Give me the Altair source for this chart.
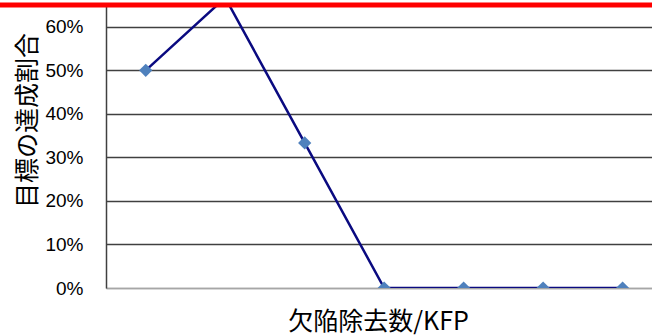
import altair as alt
import pandas as pd

# Achievement ratio per defect-removal bucket
steps = [1, 2, 3, 4, 5, 6, 7]
ratios = [0.50, 0.6667, 0.3333, 0.0, 0.0, 0.0, 0.0]
target = [0.65]

df = pd.DataFrame({"step": steps, "ratio": ratios})
target_df = pd.DataFrame({"target": target})

FONT_LATIN = "Liberation Sans"
FONT_CJK = "Noto Sans CJK JP"

x_scale = alt.Scale(domain=[0.5, 7.37], nice=False, zero=False)
y_scale = alt.Scale(domain=[0, 0.65], nice=False)

x_axis = alt.Axis(
    title="欠陥除去数/KFP",
    labels=False,
    ticks=False,
    grid=False,
    domainColor="#a6a6a6",
    domainWidth=1.5,
    titleFont=FONT_CJK,
    titleFontSize=25,
    titleFontWeight="normal",
    titleColor="#000000",
    titleAlign="center",
    titleBaseline="top",
    titleX=272,
    titleY=21,
)

y_axis = alt.Axis(
    title="目標の達成割合",
    values=[0, 0.1, 0.2, 0.3, 0.4, 0.5, 0.6],
    format=".0%",
    ticks=False,
    labelPadding=23,
    labelFont=FONT_LATIN,
    labelFontSize=19,
    labelColor="#000000",
    domainColor="#404040",
    domainWidth=1.5,
    gridColor={"condition": {"test": "datum.value === 0", "value": "#a6a6a6"},
               "value": "#404040"},
    gridWidth=1.5,
    titleFont=FONT_CJK,
    titleFontSize=25,
    titleFontWeight="normal",
    titleColor="#000000",
    titleAlign="center",
    titleBaseline="middle",
    titleAngle=-90,
    titleX=-79,
    titleY=115,
)

base = alt.Chart(df)

line = base.mark_line(color="#0a0a80", strokeWidth=2.5, clip=True).encode(
    x=alt.X("step:Q", scale=x_scale, axis=x_axis),
    y=alt.Y("ratio:Q", scale=y_scale, axis=y_axis),
)

points = base.mark_point(
    shape="diamond", filled=True, color="#4f81bd", size=175, opacity=1, clip=True
).encode(
    x=alt.X("step:Q", scale=x_scale),
    y=alt.Y("ratio:Q", scale=y_scale),
)

target_rule = alt.Chart(target_df).mark_rule(color="#ff0000", strokeWidth=5).encode(
    y=alt.Y("target:Q", scale=y_scale),
    x=alt.value(-110),
    x2=alt.value(560),
)

chart = (
    alt.layer(line, points, target_rule)
    .properties(
        width=546,
        height=283,
        autosize=alt.AutoSizeParams(type="none"),
        padding={"left": 106, "top": 5, "right": 0, "bottom": 47},
        background="#ffffff",
    )
    .configure_view(stroke=None)
)

chart.save("out.html", embed_options={"renderer": "svg", "actions": False})
